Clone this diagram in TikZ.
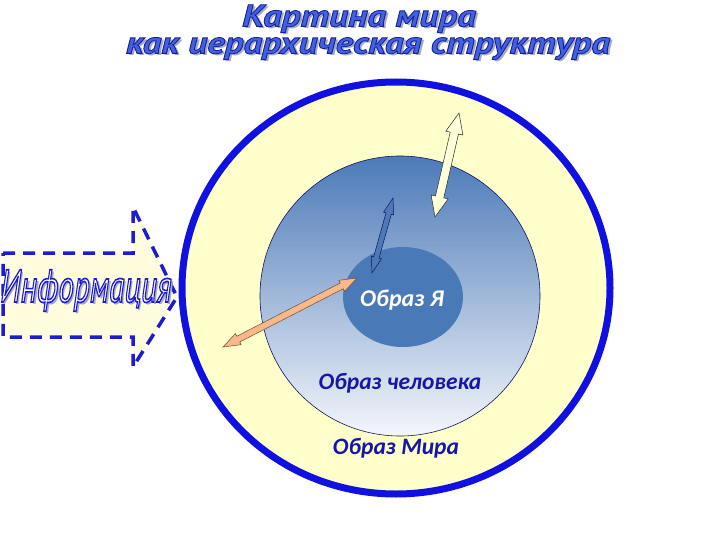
\documentclass[tikz,border=0pt]{standalone}
\usepackage{fontspec}
\setmainfont{PT Sans}
\newfontfamily\labelfont{Carlito}
\usetikzlibrary{calc,shapes.arrows,shapes.geometric}
\definecolor{ringblue}{RGB}{16,16,224}
\definecolor{ringfill}{RGB}{255,255,204}
\definecolor{manblue}{RGB}{76,122,184}
\definecolor{manwhite}{RGB}{244,246,251}
\definecolor{navyline}{RGB}{20,20,90}
\definecolor{selfblue}{RGB}{74,121,183}
\definecolor{labelblue}{RGB}{22,22,168}
\definecolor{infoblue}{RGB}{28,28,210}
\definecolor{infofill}{RGB}{255,253,222}
\definecolor{peach}{RGB}{247,185,140}
\definecolor{paleyellow}{RGB}{255,255,218}
\definecolor{shadowgray}{RGB}{165,170,195}
\def\blockarrow#1[#2](#3)(#4){\path let \p1=($(#4)-(#3)$), \n1={veclen(\x1,\y1)}, \n2={atan2(\y1,\x1)} in ($(#3)!0.5!(#4)$) node[blockarrow,#2,rotate=\n2,minimum height=\n1] (#1) {};}
% outlined text: fill and stroke colours given as pdf operators
\def\outlined#1#2{\special{pdf:literal direct 2 Tr #1}#2\special{pdf:literal direct 0 Tr}}
\def\titleink{0.8 w 0.26 0.38 0.87 rg 0.1 0.12 0.6 RG}

\begin{document}
\begin{tikzpicture}[x=1pt,y=-1pt,
	ring/.style={draw=ringblue,line width=7pt,fill=ringfill},
	manball/.style={draw=navyline,line width=0.6pt,top color=manblue,bottom color=manwhite},
	selfball/.style={fill=selfblue},
	infoarrow/.style={draw=infoblue,line width=3.5pt,dash pattern=on 12pt off 8pt,fill=infofill},
	blockarrow/.style={double arrow,inner sep=0pt,minimum width=0pt,line width=0.5pt},
	lightarrow/.style={fill=paleyellow,draw=black!85,inner ysep=4pt,double arrow head extend=4.5pt,double arrow tip angle=46},
	bluearrow/.style={fill=manblue,draw=navyline,inner ysep=2.5pt,double arrow head extend=2.5pt,double arrow tip angle=36},
	peacharrow/.style={fill=peach,draw=brown!60!black,inner ysep=3pt,double arrow head extend=3pt,double arrow tip angle=40},
	label/.style={font=\labelfont\bfseries\itshape\fontsize{23.5}{27}\selectfont,text=labelblue,anchor=base},
	infotext/.style={font=\itshape\fontsize{46}{50}\selectfont,xscale=0.68,anchor=base},
	title/.style={font=\bfseries\itshape\fontsize{31}{27}\selectfont,xscale=1.2,inner sep=0pt,align=center,anchor=north},
	shadow/.style={text=shadowgray}]
	%%%%% START %%%%%
	\useasboundingbox (0,0) rectangle (720,540);
	
	% information arrow
	\coordinate (i1) at (3,253);
	\coordinate (i2) at (133,253);
	\coordinate (i3) at (133,207);
	\coordinate (i4) at (177,297);
	\coordinate (i5) at (133,367);
	\coordinate (i6) at (133,337);
	\coordinate (i7) at (3,337);
	\draw[infoarrow] (i1) -- (i2) -- (i3) -- (i4) -- (i5) -- (i6) -- (i7) -- cycle;
	\node[infotext,shadow] (infoshadow) at (88.5,304.5) {Информация};
	\node[infotext] (info) at (86,302) {\outlined{1.6 w 1 1 1 rg 0.11 0.11 0.82 RG}{Информация}};
	
	% the three pictures
	\draw[ring] (396,288) ellipse [x radius=214, y radius=206];
	\node[circle,manball,minimum size=280pt,inner sep=0pt] (man) at (400,296) {};
	\node[ellipse,selfball,minimum width=120pt,minimum height=100pt,inner sep=0pt] (self) at (403,297) {};
	
	\node[label] (mantext) at (400,389) {Образ человека};
	\node[label] (worldtext) at (396,454) {Образ Мира};
	\node[label,text=white,font=\labelfont\bfseries\itshape\fontsize{24}{28}\selectfont] (selftext) at (402,306) {Образ Я};
	
	% arrows
	\coordinate (worldtop) at (459,113);
	\coordinate (worldbot) at (435,217);
	\coordinate (mantop) at (393,198);
	\coordinate (manbot) at (372,273);
	\coordinate (selfend) at (357,278);
	\coordinate (outend) at (223,347);
	\blockarrow{worldarrow}[lightarrow](worldbot)(worldtop)
	\blockarrow{manarrow}[bluearrow](manbot)(mantop)
	\blockarrow{selfarrow}[peacharrow](outend)(selfend)
	
	% title
	\node[title,shadow] (titleshadow) at (370.5,7) {Картина мира\hspace*{15pt}\\как иерархическая структура};
	\node[title] (title) at (368,4.5) {\outlined{\titleink}{Картина мира}\hspace*{15pt}\\\outlined{\titleink}{как иерархическая структура}};
	
	%%%%% END %%%%%
\end{tikzpicture}
\end{document}
